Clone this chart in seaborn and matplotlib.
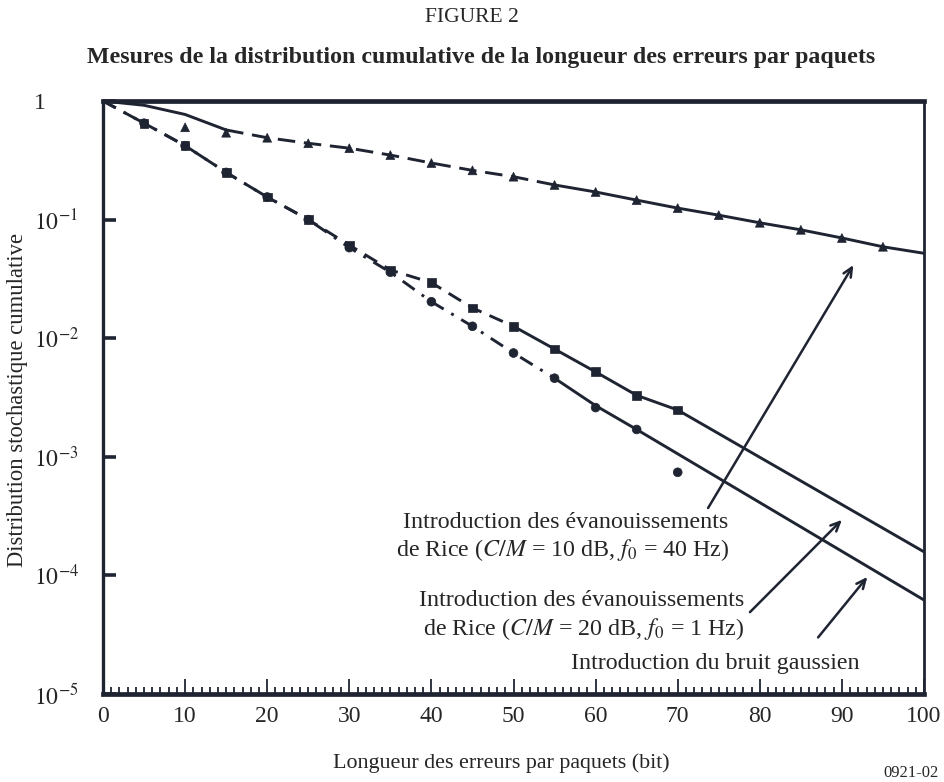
import numpy as np
import pandas as pd
import matplotlib
matplotlib.use("Agg")
import matplotlib.pyplot as plt
import seaborn as sns

# --- measured points -------------------------------------------------------
# Rice fading, C/M = 10 dB, f0 = 40 Hz (triangles)
tri_x = [10, 15, 20, 25, 30, 35, 40, 45, 50, 55, 60, 65, 70, 75, 80, 85, 90, 95]
tri_y = [0.60, 0.54, 0.49, 0.44, 0.40, 0.35, 0.30, 0.26, 0.23, 0.196, 0.171,
         0.146, 0.125, 0.109, 0.094, 0.082, 0.070, 0.059]

# Rice fading, C/M = 20 dB, f0 = 1 Hz (squares)
sq_x = [5, 10, 15, 20, 25, 30, 35, 40, 45, 50, 55, 60, 65, 70]
sq_y = [0.65, 0.42, 0.25, 0.155, 0.10, 0.061, 0.0376, 0.0294, 0.018, 0.0126,
        0.0081, 0.0052, 0.0033, 0.00248]

# Gaussian noise (circles)
ci_x = [5, 10, 15, 20, 25, 30, 35, 40, 45, 50, 55, 60, 65, 70]
ci_y = [0.65, 0.42, 0.25, 0.155, 0.10, 0.058, 0.036, 0.0203, 0.0126, 0.0075,
        0.0046, 0.0026, 0.0017, 0.00074]

# --- fitted curves (nodes of the drawn lines) -------------------------------
up_dash_x = [0, 5, 10, 15, 20, 25, 30, 35, 40, 45, 50, 55]
up_dash_y = [1.0, 0.92, 0.77, 0.57, 0.49, 0.44, 0.40, 0.35, 0.30, 0.26, 0.23, 0.196]
up_solid_x = [55, 60, 65, 70, 75, 80, 85, 90, 95, 100]
up_solid_y = [0.196, 0.171, 0.146, 0.125, 0.109, 0.094, 0.082, 0.070, 0.059, 0.052]

mid_dash_x = [0, 5, 10, 15, 20, 25, 30, 35, 40, 45, 50]
mid_dash_y = [1.0, 0.65, 0.42, 0.25, 0.155, 0.10, 0.061, 0.0376, 0.0294, 0.018, 0.0126]
mid_solid_x = [50, 55, 60, 65, 70, 100]
mid_solid_y = [0.0126, 0.0081, 0.0052, 0.0033, 0.00248, 1.58e-4]

low_dash_x = [0, 5, 10, 15, 20, 25, 30, 35, 40, 45, 50, 55]
low_dash_y = [1.0, 0.65, 0.42, 0.25, 0.155, 0.10, 0.058, 0.036, 0.0203, 0.0126, 0.0075, 0.0046]
low_solid_x = [55, 60, 65, 100]
low_solid_y = [0.0046, 0.0027, 0.0017, 6.2e-5]

x_ticks = [0, 10, 20, 30, 40, 50, 60, 70, 80, 90, 100]
y_ticks = [1e-5, 1e-4, 1e-3, 1e-2, 1e-1, 1]
y_tick_labels = [r"$10^{-5}$", r"$10^{-4}$", r"$10^{-3}$", r"$10^{-2}$", r"$10^{-1}$", "1"]

# --- style ----------------------------------------------------------------
sns.set_theme(style="ticks")
plt.rcParams["font.family"] = ["Liberation Serif", "DejaVu Serif"]
plt.rcParams["mathtext.fontset"] = "stix"

INK = "#1f2433"
W, H = 944, 782

fig = plt.figure(figsize=(W / 100, H / 100), dpi=100)
fig.patch.set_facecolor("white")
ax = fig.add_axes([103 / W, 1 - 694 / H, (924 - 103) / W, (694 - 101) / H])
ax.set_facecolor("white")


def curve(xs, ys, style, lw=2.1):
    d = pd.DataFrame({"x": xs, "y": ys})
    sns.lineplot(data=d, x="x", y="y", ax=ax, color=INK, lw=lw, sort=False,
                 estimator=None, linestyle=style, legend=False)


curve(up_dash_x[:4], up_dash_y[:4], "-")
curve(up_dash_x[3:], up_dash_y[3:], (0, (6, 3)))
curve(up_solid_x, up_solid_y, "-")
curve(mid_dash_x, mid_dash_y, (0, (5, 3)))
curve(mid_solid_x, mid_solid_y, "-")
curve(low_dash_x, low_dash_y, (0, (5, 3, 1, 3)))
curve(low_solid_x, low_solid_y, "-")

pts = pd.concat([
    pd.DataFrame({"x": tri_x, "y": tri_y, "s": "tri"}),
    pd.DataFrame({"x": sq_x, "y": sq_y, "s": "sq"}),
    pd.DataFrame({"x": ci_x, "y": ci_y, "s": "ci"}),
])
sns.scatterplot(data=pts, x="x", y="y", style="s", markers={"tri": "^", "sq": "s", "ci": "o"},
                color=INK, s=40, edgecolor=INK, linewidth=0.5, ax=ax, legend=False, zorder=5)

ax.set_yscale("log")
ax.set_xlim(0, 100)
ax.set_ylim(1e-5, 1)
ax.set_xlabel("")
ax.set_ylabel("")

for side, lw in {"top": 3.4, "bottom": 3.4, "left": 2.4, "right": 2.0}.items():
    ax.spines[side].set_visible(True)
    ax.spines[side].set_linewidth(lw)
    ax.spines[side].set_color(INK)

ax.set_xticks(x_ticks)
ax.set_xticks(np.arange(0, 101, 1), minor=True)
ax.set_yticks(y_ticks)
ax.set_yticklabels(y_tick_labels)
ax.yaxis.set_minor_locator(matplotlib.ticker.NullLocator())
ax.tick_params(axis="x", which="major", direction="in", length=11, width=1.3,
               color=INK, labelsize=17, pad=9)
ax.tick_params(axis="x", which="minor", direction="in", length=5, width=1.3, color=INK)
ax.tick_params(axis="y", which="major", direction="in", length=9, width=2.6,
               color=INK, labelsize=17, pad=50)
for lab in ax.get_yticklabels():
    lab.set_horizontalalignment("left")

# --- annotations -----------------------------------------------------------
arrow = dict(arrowstyle="->,head_length=0.55,head_width=0.25", color=INK, lw=1.8,
             shrinkA=0, shrinkB=0)
ax.annotate("", xy=(91.4, 0.0414), xytext=(73.7, 3.7e-4), arrowprops=arrow)
ax.annotate("", xy=(90.0, 2.94e-4), xytext=(78.8, 4.9e-5), arrowprops=arrow)
ax.annotate("", xy=(93.1, 9.7e-5), xytext=(87.1, 3.0e-5), arrowprops=arrow)

tsize = 17.3
fig.text(566 / W, 1 - 522 / H, "Introduction des évanouissements", ha="center", va="center",
         fontsize=tsize)
fig.text(563 / W, 1 - 550 / H, r"de Rice ($\mathit{C/M}$ = 10 dB, $\mathit{f}_0$ = 40 Hz)",
         ha="center", va="center", fontsize=tsize)
fig.text(582 / W, 1 - 601 / H, "Introduction des évanouissements", ha="center", va="center",
         fontsize=tsize)
fig.text(584 / W, 1 - 629 / H, r"de Rice ($\mathit{C/M}$ = 20 dB, $\mathit{f}_0$ = 1 Hz)",
         ha="center", va="center", fontsize=tsize)
fig.text(715 / W, 1 - 663 / H, "Introduction du bruit gaussien", ha="center", va="center",
         fontsize=tsize)

fig.text(472 / W, 1 - 17 / H, "FIGURE 2", ha="center", va="center", fontsize=15.5)
fig.text(481 / W, 1 - 57 / H,
         "Mesures de la distribution cumulative de la longueur des erreurs par paquets",
         ha="center", va="center", fontsize=17.2, fontweight="bold")
fig.text(18 / W, 1 - 400 / H, "Distribution stochastique cumulative", rotation=90,
         ha="center", va="center", fontsize=16.3)
fig.text(501 / W, 1 - 763 / H, "Longueur des erreurs par paquets (bit)", ha="center",
         va="center", fontsize=15.8)
fig.text(911 / W, 1 - 773 / H, "0921-02", ha="center", va="center", fontsize=12)

fig.savefig("out.png", dpi=100, facecolor="white")
